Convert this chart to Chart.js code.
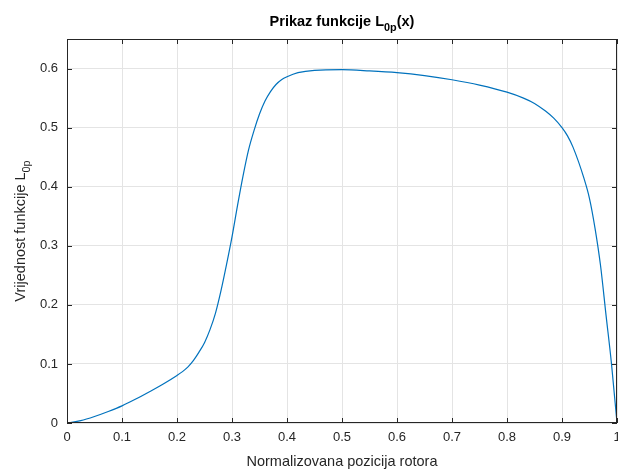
<!DOCTYPE html>
<html>
<head>
<meta charset="utf-8">
<script src="https://cdn.jsdelivr.net/npm/chart.js@4/dist/chart.umd.min.js"></script>
<style>
  html, body { margin: 0; padding: 0; background: #fff; }
  #wrap { width: 618px; height: 469px; }
</style>
</head>
<body>
<div id="wrap"><canvas id="chart" width="618" height="469"></canvas></div>
<script>
// values
const xPos = [0, 0.025, 0.05, 0.075, 0.1, 0.125, 0.15, 0.175, 0.2, 0.21, 0.22, 0.23, 0.24, 0.25, 0.26, 0.27, 0.28, 0.29,
    0.3, 0.31, 0.32, 0.33, 0.34, 0.35, 0.36, 0.37, 0.38, 0.39, 0.4, 0.42, 0.45, 0.5, 0.55, 0.6, 0.65, 0.7,
    0.75, 0.8, 0.83, 0.85, 0.87, 0.885, 0.9, 0.91, 0.92, 0.94, 0.95, 0.96, 0.97, 0.98, 0.99, 1.0];
const L0p = [0, 0.004, 0.011, 0.0195, 0.029, 0.0405, 0.053, 0.066, 0.0805, 0.087, 0.095, 0.106, 0.12, 0.136, 0.158, 0.186, 0.224, 0.268,
    0.315, 0.368, 0.418, 0.462, 0.495, 0.523, 0.545, 0.561, 0.573, 0.581, 0.586, 0.593, 0.597, 0.598, 0.596, 0.593, 0.588, 0.581,
    0.572, 0.56, 0.55, 0.541, 0.528, 0.516, 0.5, 0.486, 0.467, 0.414, 0.38, 0.33, 0.267, 0.183, 0.1, 0.0];

const titleParts = [{ t: "Prikaz funkcije L" }, { t: "0p", sub: true }, { t: "(x)" }];
const yLabelParts = [{ t: "Vrijednost funkcije L" }, { t: "0p", sub: true }];
const xLabel = "Normalizovana pozicija rotora";

const axisColor = "#262626";
const fontFam = "'Liberation Sans', Arial, sans-serif";

// draw text with subscript pieces, centred on x
function drawRich(ctx, parts, x, y, size, bold) {
    const w = (p) => {
        ctx.font = (bold ? "bold " : "") + (p.sub ? size * 0.75 : size) + "px " + fontFam;
        return ctx.measureText(p.t).width;
    };
    let total = 0;
    parts.forEach(p => total += w(p));
    let cx = x - total / 2;
    ctx.textAlign = "left";
    ctx.textBaseline = "alphabetic";
    parts.forEach(p => {
        const pw = w(p);
        ctx.fillText(p.t, cx, p.sub ? y + size * 0.35 : y);
        cx += pw;
    });
}

const framePlugin = {
    id: "frame",
    afterDraw(chart) {
        const ctx = chart.ctx;
        const a = chart.chartArea;
        const xs = chart.scales.x, ys = chart.scales.y;
        ctx.save();
        ctx.strokeStyle = axisColor;
        ctx.lineWidth = 1;
        ctx.strokeRect(Math.round(a.left) + 0.5, Math.round(a.top) + 0.5,
            Math.round(a.right - a.left) - 1, Math.round(a.bottom - a.top) - 1);
        const len = 5;
        ctx.beginPath();
        xs.ticks.forEach(t => {
            const px = Math.round(xs.getPixelForValue(t.value)) + 0.5;
            ctx.moveTo(px, a.bottom); ctx.lineTo(px, a.bottom - len);
            ctx.moveTo(px, a.top); ctx.lineTo(px, a.top + len);
        });
        ys.ticks.forEach(t => {
            const py = Math.round(ys.getPixelForValue(t.value)) + 0.5;
            ctx.moveTo(a.left, py); ctx.lineTo(a.left + len, py);
            ctx.moveTo(a.right, py); ctx.lineTo(a.right - len, py);
        });
        ctx.stroke();

        // title and axis labels
        ctx.fillStyle = "#000";
        const mid = (a.left + a.right) / 2;
        drawRich(ctx, titleParts, mid, 26, 14.5, true);
        ctx.fillStyle = axisColor;
        ctx.font = "14.5px " + fontFam;
        ctx.textAlign = "center";
        ctx.fillText(xLabel, mid, 466);
        ctx.save();
        ctx.translate(25, (a.top + a.bottom) / 2);
        ctx.rotate(-Math.PI / 2);
        drawRich(ctx, yLabelParts, 0, 0, 14.5, false);
        ctx.restore();
        ctx.restore();
    }
};

const fmt = (v) => String(Number(v.toFixed(2)));

const ctx = document.getElementById("chart").getContext("2d");
new Chart(ctx, {
    type: "line",
    data: {
        datasets: [{
            data: xPos.map((x, i) => ({ x: x, y: L0p[i] })),
            borderColor: "#0072BD",
            borderWidth: 1.2,
            pointRadius: 0,
            cubicInterpolationMode: "monotone",
            fill: false
        }]
    },
    options: {
        responsive: false,
        animation: false,
        layout: { padding: { top: 39, right: 1, left: 0, bottom: 0 } },
        plugins: {
            legend: { display: false },
            title: { display: false },
            tooltip: { enabled: false }
        },
        scales: {
            x: {
                type: "linear",
                min: 0,
                max: 1,
                ticks: {
                    stepSize: 0.1,
                    color: axisColor,
                    font: { family: fontFam, size: 13 },
                    padding: 7,
                    maxRotation: 0,
                    autoSkip: false,
                    callback: fmt
                },
                grid: { color: "#e4e4e4", drawTicks: false },
                border: { display: false },
                afterFit: (s) => { s.height = 46; s.paddingLeft = 0; s.paddingRight = 0; }
            },
            y: {
                min: 0,
                max: 0.65,
                ticks: {
                    stepSize: 0.1,
                    color: axisColor,
                    font: { family: fontFam, size: 13 },
                    padding: 9,
                    callback: fmt
                },
                afterBuildTicks: (s) => { s.ticks = s.ticks.filter(t => t.value < 0.62); },
                grid: { color: "#e4e4e4", drawTicks: false },
                border: { display: false },
                afterFit: (s) => { s.width = 67; s.paddingTop = 0; s.paddingBottom = 0; }
            }
        }
    },
    plugins: [framePlugin]
});
</script>
</body>
</html>
